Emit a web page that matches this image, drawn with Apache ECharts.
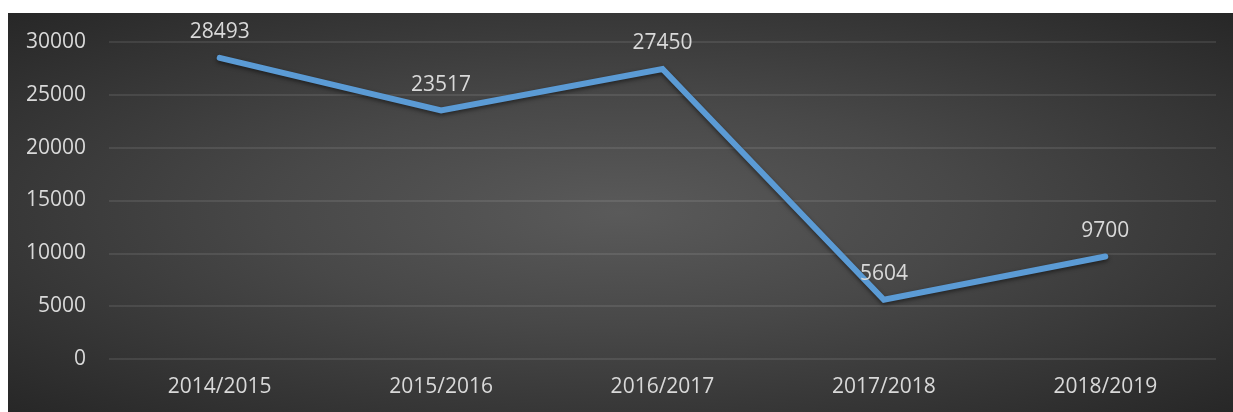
<!DOCTYPE html>
<html>
<head>
<meta charset="utf-8">
<script src="https://cdn.jsdelivr.net/npm/echarts@6/dist/echarts.min.js"></script>
<style>
    html, body { margin: 0; padding: 0; background: #fff; }
    #line {
        position: absolute;
        left: 8px;
        top: 13px;
        width: 1225px;
        height: 399px;
        background: radial-gradient(ellipse at 50% 50%, #5a5a5a 0%, #484848 40%, #272727 100%);
    }
</style>
</head>
<body>
<div id="line"></div>
<script>
// 年度
const years = ['2014/2015', '2015/2016', '2016/2017', '2017/2018', '2018/2019']
// 数值
const values = [28493, 23517, 27450, 5604, 9700]

const yMin = 0
const yMax = 30000
const yStep = 5000

let myChart = echarts.init(document.querySelector('#line'))

const option = {
    backgroundColor: 'transparent',
    textStyle: {
        fontFamily: 'Open Sans'
    },
    grid: {
        left: 101,
        right: 17,
        top: 29,
        bottom: 53
    },
    xAxis: {
        type: 'category',
        data: years,
        axisLine: { show: false },
        axisTick: { show: false },
        axisLabel: {
            color: '#d9d9d9',
            fontSize: 21,
            margin: 18
        }
    },
    yAxis: {
        type: 'value',
        min: yMin,
        max: yMax,
        interval: yStep,
        axisLine: { show: false },
        axisTick: { show: false },
        axisLabel: {
            color: '#d9d9d9',
            fontSize: 21,
            margin: 23,
            formatter: v => String(v)
        },
        splitLine: {
            lineStyle: {
                color: 'rgba(255,255,255,0.12)',
                width: 1.5
            }
        }
    },
    series: [
        {
            type: 'line',
            data: values,
            symbol: 'circle',
            symbolSize: 2,
            showSymbol: true,
            itemStyle: { color: 'rgba(91,155,213,0)' },
            lineStyle: {
                color: '#5b9bd5',
                width: 6,
                cap: 'round',
                join: 'miter',
                shadowColor: 'rgba(0,0,0,0.5)',
                shadowBlur: 4,
                shadowOffsetY: 2
            },
            label: {
                show: true,
                position: 'top',
                distance: 14,
                color: '#d9d9d9',
                fontSize: 21
            }
        }
    ]
}

myChart.setOption(option)
</script>
</body>
</html>
